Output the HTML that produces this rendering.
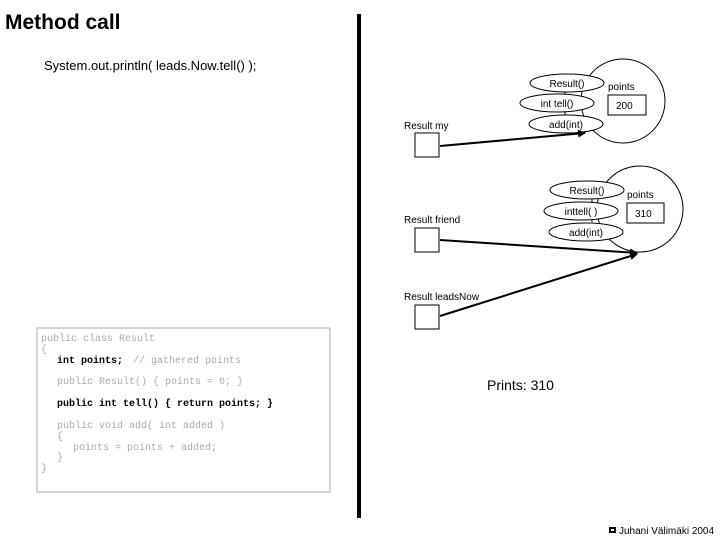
<!DOCTYPE html>
<html><head><meta charset="utf-8"><style>
body{margin:0;background:#fff;}
svg{display:block;}
text{font-family:"Liberation Sans",sans-serif;}
.m{font-family:"Liberation Mono",monospace;font-size:10px;fill:#aaa;}
.mb{font-family:"Liberation Mono",monospace;font-size:10px;fill:#000;font-weight:bold;}
</style></head><body>
<svg width="720" height="540" viewBox="0 0 720 540" xmlns="http://www.w3.org/2000/svg">
<defs><marker id="a" markerWidth="8" markerHeight="8" refX="7" refY="4" orient="auto" markerUnits="userSpaceOnUse"><path d="M0,0 L8,4 L0,8 z" fill="#000"/></marker></defs>
<text x="5" y="29" font-size="21" font-weight="bold">Method call</text>
<text x="44" y="70" font-family="Liberation Mono,monospace" font-size="13">System.out.println( leads.Now.tell() );</text>
<rect x="357" y="14" width="4" height="504" fill="#000"/>
<!-- object 1 -->
<circle cx="623" cy="101" r="42" fill="none" stroke="#000"/>
<line x1="565" y1="92" x2="565" y2="115" stroke="#000"/>
<ellipse cx="567" cy="83" rx="37" ry="9" fill="#fff" stroke="#000"/>
<ellipse cx="557" cy="103" rx="37" ry="9" fill="#fff" stroke="#000"/>
<ellipse cx="566" cy="124" rx="37" ry="9" fill="#fff" stroke="#000"/>
<text x="567" y="87" font-size="10" text-anchor="middle">Result()</text>
<text x="557" y="107" font-size="10" text-anchor="middle">int tell()</text>
<text x="566" y="128" font-size="10" text-anchor="middle">add(int)</text>
<text x="608" y="90" font-size="10">points</text>
<rect x="608" y="95" width="38" height="20" fill="#fff" stroke="#000"/>
<text x="616" y="109" font-size="10">200</text>
<text x="404" y="129" font-size="10">Result my</text>
<rect x="415" y="133" width="24" height="24" fill="#fff" stroke="#000"/>
<line x1="440" y1="146" x2="585" y2="133" stroke="#000" stroke-width="2" marker-end="url(#a)"/>
<!-- object 2 -->
<circle cx="640" cy="209" r="43" fill="none" stroke="#000"/>
<line x1="592" y1="199" x2="592" y2="222" stroke="#000"/>
<ellipse cx="587" cy="190" rx="37" ry="9" fill="#fff" stroke="#000"/>
<ellipse cx="581" cy="211" rx="37" ry="9" fill="#fff" stroke="#000"/>
<ellipse cx="586" cy="232" rx="37" ry="9" fill="#fff" stroke="#000"/>
<text x="587" y="194" font-size="10" text-anchor="middle">Result()</text>
<text x="581" y="215" font-size="10" text-anchor="middle">inttell( )</text>
<text x="586" y="236" font-size="10" text-anchor="middle">add(int)</text>
<text x="627" y="198" font-size="10">points</text>
<rect x="627" y="203" width="37" height="20" fill="#fff" stroke="#000"/>
<text x="635" y="217" font-size="10">310</text>
<text x="404" y="223" font-size="10">Result friend</text>
<rect x="415" y="228" width="24" height="24" fill="#fff" stroke="#000"/>
<line x1="440" y1="240" x2="637" y2="253" stroke="#000" stroke-width="2" marker-end="url(#a)"/>
<text x="404" y="300" font-size="10">Result leadsNow</text>
<rect x="415" y="305" width="24" height="24" fill="#fff" stroke="#000"/>
<line x1="440" y1="316" x2="637" y2="254" stroke="#000" stroke-width="2" marker-end="url(#a)"/>
<!-- code -->
<rect x="37" y="328" width="293" height="164" fill="#fff" stroke="#aaa"/>
<text class="m" x="41" y="341">public class Result</text>
<text class="m" x="41" y="352">{</text>
<text class="mb" x="57" y="363">int points;</text>
<text class="m" x="133" y="363">// gathered points</text>
<text class="m" x="57" y="384">public Result() { points = 0; }</text>
<text class="mb" x="57" y="406">public int tell() { return points; }</text>
<text class="m" x="57" y="428">public void add( int added )</text>
<text class="m" x="57" y="439">{</text>
<text class="m" x="73" y="450">points = points + added;</text>
<text class="m" x="57" y="460">}</text>
<text class="m" x="41" y="471">}</text>
<text x="487" y="390" font-size="14">Prints: 310</text>
<rect x="609" y="527" width="7" height="6" fill="#000"/>
<rect x="611" y="529" width="3" height="2" fill="#fff"/>
<text x="619" y="534" font-size="10">Juhani Välimäki 2004</text>
</svg>
</body></html>
